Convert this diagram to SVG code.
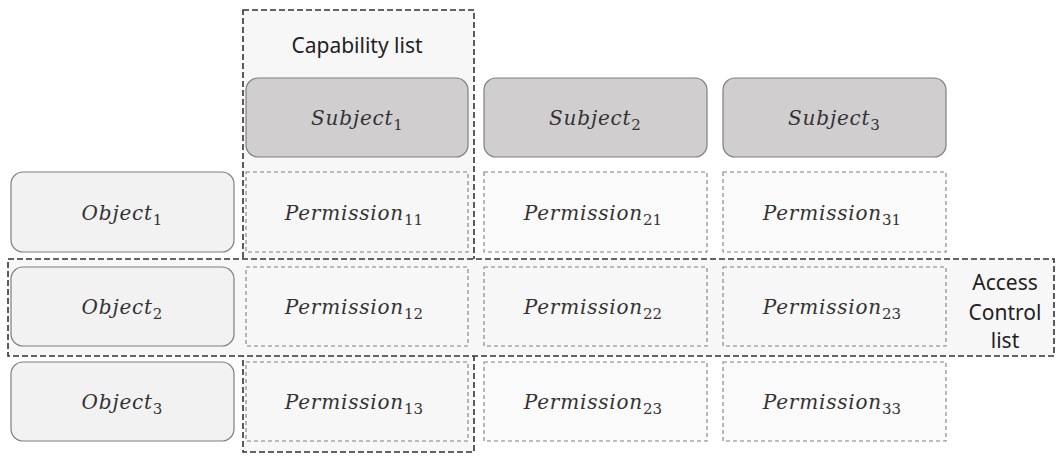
<svg xmlns="http://www.w3.org/2000/svg" width="1056" height="456" viewBox="0 0 1056 456">
<style>
.grp{fill:#f7f7f7;stroke:#333;stroke-width:1.6;stroke-dasharray:6 3}
.subj{fill:#d0cecf;stroke:#7f7f7f;stroke-width:1.2}
.obj{fill:#f2f2f2;stroke:#7f7f7f;stroke-width:1.2}
.perm{fill:#f7f7f7;fill-opacity:0.6;stroke:#808080;stroke-width:1.1;stroke-dasharray:4 3}
.m{font-family:"DejaVu Serif","Liberation Serif",serif;font-style:italic;font-size:20px;letter-spacing:0.8px;fill:#333;text-anchor:middle}
.s{font-size:15px;font-style:normal;letter-spacing:0}
.lbl{font-family:"Noto Sans","Open Sans",sans-serif;font-size:21px;fill:#222;text-anchor:middle}
</style>
<g id="capability-list">
<rect class="grp" x="243" y="10" width="231" height="442"/>
<text class="lbl" x="357" y="53">Capability list</text>
</g>
<g id="access-control-list">
<rect class="grp" x="8" y="259" width="1046" height="97"/>
<text class="lbl" x="1005" y="290">Access</text>
<text class="lbl" x="1005" y="320">Control</text>
<text class="lbl" x="1005" y="348">list</text>
</g>
<g id="subject1"><rect class="subj" x="246" y="78" width="222" height="79" rx="12"/><text class="m" x="357" y="125">Subject<tspan class="s" dy="5">1</tspan></text></g>
<g id="subject2"><rect class="subj" x="484" y="78" width="223" height="79" rx="12"/><text class="m" x="595" y="125">Subject<tspan class="s" dy="5">2</tspan></text></g>
<g id="subject3"><rect class="subj" x="723" y="78" width="223" height="79" rx="12"/><text class="m" x="834" y="125">Subject<tspan class="s" dy="5">3</tspan></text></g>
<g id="object1"><rect class="obj" x="11" y="172" width="223" height="80" rx="12"/><text class="m" x="122" y="220">Object<tspan class="s" dy="5">1</tspan></text></g>
<g id="object2"><rect class="obj" x="11" y="267" width="223" height="79" rx="12"/><text class="m" x="122" y="314">Object<tspan class="s" dy="5">2</tspan></text></g>
<g id="object3"><rect class="obj" x="11" y="362" width="223" height="79" rx="12"/><text class="m" x="122" y="409">Object<tspan class="s" dy="5">3</tspan></text></g>
<g id="p11"><rect class="perm" x="246" y="172" width="222" height="80"/><text class="m" x="354" y="220">Permission<tspan class="s" dy="5">11</tspan></text></g>
<g id="p21"><rect class="perm" x="484" y="172" width="223" height="80"/><text class="m" x="593" y="220">Permission<tspan class="s" dy="5">21</tspan></text></g>
<g id="p31"><rect class="perm" x="723" y="172" width="223" height="80"/><text class="m" x="832" y="220">Permission<tspan class="s" dy="5">31</tspan></text></g>
<g id="p12"><rect class="perm" x="246" y="267" width="222" height="79"/><text class="m" x="354" y="314">Permission<tspan class="s" dy="5">12</tspan></text></g>
<g id="p22"><rect class="perm" x="484" y="267" width="223" height="79"/><text class="m" x="593" y="314">Permission<tspan class="s" dy="5">22</tspan></text></g>
<g id="p23a"><rect class="perm" x="723" y="267" width="223" height="79"/><text class="m" x="832" y="314">Permission<tspan class="s" dy="5">23</tspan></text></g>
<g id="p13"><rect class="perm" x="246" y="362" width="222" height="79"/><text class="m" x="354" y="409">Permission<tspan class="s" dy="5">13</tspan></text></g>
<g id="p23b"><rect class="perm" x="484" y="362" width="223" height="79"/><text class="m" x="593" y="409">Permission<tspan class="s" dy="5">23</tspan></text></g>
<g id="p33"><rect class="perm" x="723" y="362" width="223" height="79"/><text class="m" x="832" y="409">Permission<tspan class="s" dy="5">33</tspan></text></g>
<g id="connectors"></g>
</svg>
